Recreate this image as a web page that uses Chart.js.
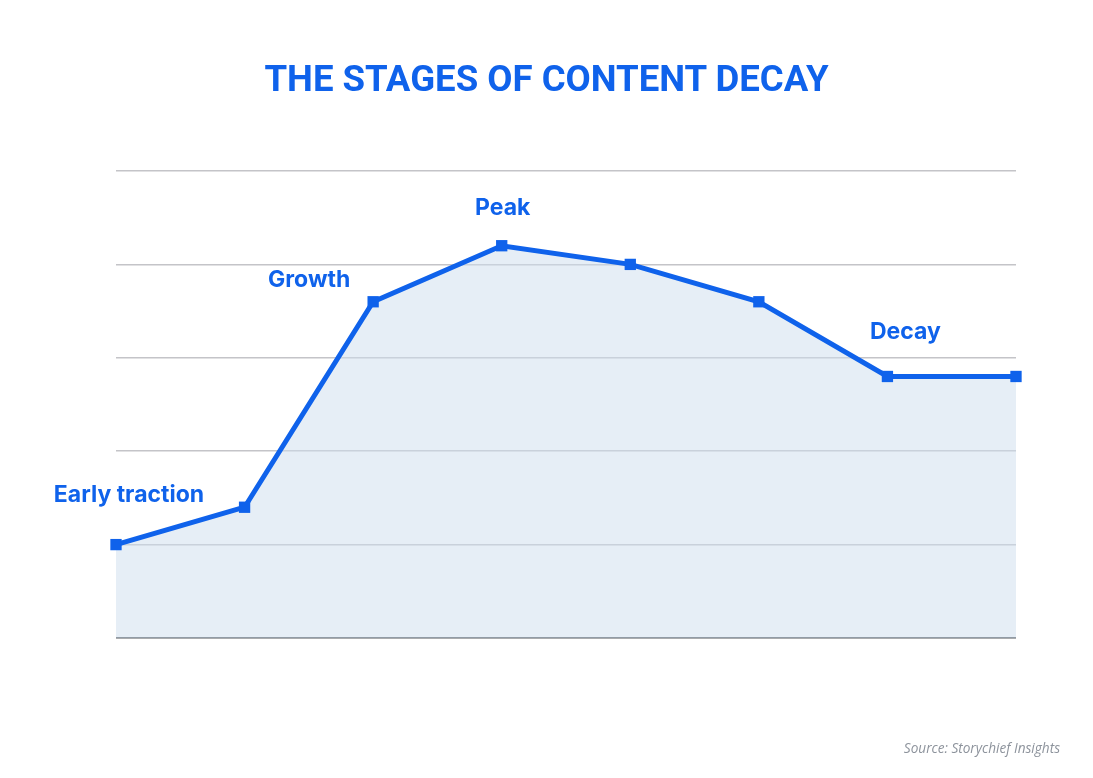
<!DOCTYPE html>
<html>
<head>
<meta charset="utf-8">
<script src="https://cdn.jsdelivr.net/npm/chart.js@4"></script>
<style>
  html, body { margin: 0; padding: 0; background: #fff; }
  #wrap { position: relative; width: 1093px; height: 778px; }
  #title {
    position: absolute; left: 0; right: 0; top: 57px; text-align: center;
    font: 700 36.6px Roboto, sans-serif; color: #0F62EB;
  }
  #source {
    position: absolute; right: 33px; top: 738px;
    font: italic 13.6px "Open Sans", sans-serif; color: #8d939c;
  }
</style>
</head>
<body>
<div id="wrap">
  <canvas id="decayChart" width="1093" height="778"></canvas>
  <div id="title">THE STAGES OF CONTENT DECAY</div>
  <div id="source">Source: Storychief Insights</div>
</div>
<script>
// stages of content decay — line chart with stage labels
const BLUE = '#0F62EB';
const FILL = 'rgba(205,222,238,0.5)';
const GRID = '#c4c4c8';
const BASE = '#55585c';

const periods = ['1', '2', '3', '4', '5', '6', '7', '8'];
const traffic = [1.0, 1.4, 3.6, 4.2, 4.0, 3.6, 2.8, 2.8];
const stageLabels = ['Early traction', '', 'Growth', 'Peak', '', '', 'Decay', ''];
const yTicks = [0, 1, 2, 3, 4, 5];

// where each stage label sits relative to its point
const labelOffsets = {
  0: [13, -50],
  2: [-64, -22],
  3: [1, -38],
  6: [18, -44],
};

const stageLabelPlugin = {
  id: 'stageLabels',
  afterDatasetsDraw(chart) {
    const ctx = chart.ctx;
    const meta = chart.getDatasetMeta(0);
    ctx.save();
    ctx.font = '700 23px Inter, sans-serif';
    ctx.fillStyle = BLUE;
    ctx.textAlign = 'center';
    ctx.textBaseline = 'middle';
    stageLabels.forEach((txt, i) => {
      if (!txt) return;
      const pt = meta.data[i];
      const off = labelOffsets[i] || [0, -30];
      ctx.fillText(txt, pt.x + off[0], pt.y + off[1]);
    });
    ctx.restore();
  },
};

new Chart(document.getElementById('decayChart'), {
  type: 'line',
  data: {
    labels: periods,
    datasets: [{
      data: traffic,
      borderColor: BLUE,
      borderWidth: 5,
      backgroundColor: FILL,
      fill: 'origin',
      tension: 0,
      pointStyle: 'rect',
      pointRadius: 8,
      pointBackgroundColor: BLUE,
      pointBorderWidth: 0,
      clip: false,
    }],
  },
  options: {
    responsive: false,
    animation: false,
    events: [],
    layout: { padding: { left: 116, right: 77, top: 171, bottom: 140 } },
    plugins: { legend: { display: false }, tooltip: { enabled: false } },
    scales: {
      x: { display: false, offset: false },
      y: {
        min: yTicks[0],
        max: yTicks[yTicks.length - 1],
        afterBuildTicks: (s) => { s.ticks = yTicks.map((v) => ({ value: v })); },
        afterFit: (s) => { s.width = 0; },
        ticks: { display: false },
        border: { display: false },
        grid: {
          drawTicks: false,
          lineWidth: 1.5,
          color: (c) => (c.tick && c.tick.value === 0 ? BASE : GRID),
        },
      },
    },
  },
  plugins: [stageLabelPlugin],
});
</script>
</body>
</html>
